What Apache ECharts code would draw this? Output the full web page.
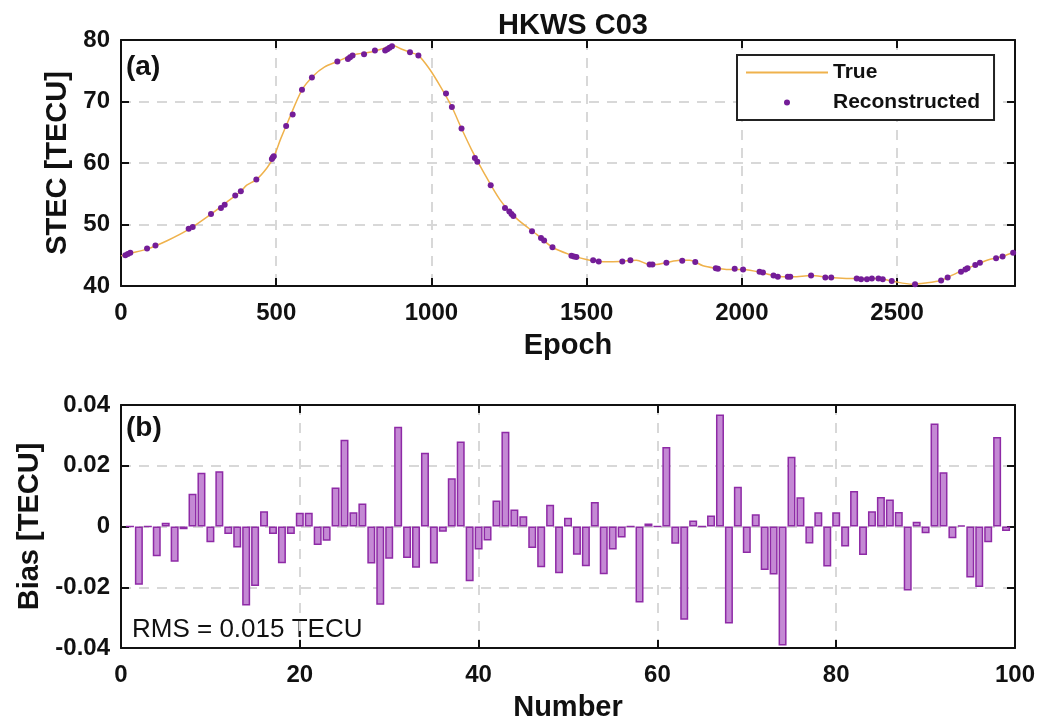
<!DOCTYPE html>
<html>
<head>
<meta charset="utf-8">
<script src="https://cdn.jsdelivr.net/npm/echarts@6/dist/echarts.min.js"></script>
<style>html,body{margin:0;padding:0;background:#fff}#c{width:1055px;height:723px}</style>
</head>
<body>
<div id="c"></div>
<script>
// ---- Panel (a): true STEC curve (epoch, TECU)
const trueCurve = [[0,44.9],[30,45.3],[84,46.0],[150,47.4],[218,49.2],[290,51.7],[340,53.6],[386,55.4],[405,56.4],[436,57.3],[470,59.2],[492,61.0],[515,64.0],[540,67.0],[583,71.9],[620,74.2],[655,75.6],[697,76.5],[750,77.6],[800,78.0],[843,78.6],[875,79.1],[905,78.5],[931,78.0],[958,77.5],[995,75.2],[1033,72.1],[1066,69.1],[1097,65.6],[1130,62.1],[1167,58.6],[1221,54.0],[1274,51.0],[1339,48.4],[1390,46.3],[1446,45.1],[1499,44.3],[1553,43.96],[1607,44.0],[1660,44.2],[1703,43.5],[1725,43.5],[1757,43.8],[1800,44.2],[1832,44.2],[1875,43.3],[1916,42.9],[1950,42.7],[2004,42.7],[2079,42.0],[2110,41.6],[2165,41.5],[2223,41.7],[2280,41.4],[2380,41.2],[2440,41.2],[2483,40.8],[2550,40.3],[2593,40.5],[2642,40.9],[2663,41.4],[2700,42.3],[2752,43.4],[2790,44.2],[2840,44.8],[2880,45.6]];
// ---- Panel (a): reconstructed points (epoch, TECU)
const reconstructed = [[14,45.0],[22,45.2],[30,45.4],[84,46.1],[111,46.6],[218,49.3],[231,49.6],[290,51.7],[322,52.7],[334,53.2],[368,54.7],[386,55.4],[436,57.3],[486,60.65],[489,60.9],[492,61.1],[532,66.0],[553,67.9],[583,71.9],[615,73.9],[697,76.5],[731,76.9],[738,77.2],[746,77.5],[783,77.7],[818,78.3],[851,78.3],[858,78.5],[865,78.75],[873,79.0],[931,78.0],[958,77.5],[1047,71.3],[1066,69.1],[1097,65.6],[1140,60.8],[1148,60.2],[1191,56.4],[1237,52.7],[1251,52.1],[1258,51.7],[1264,51.4],[1324,48.9],[1353,47.8],[1363,47.4],[1390,46.3],[1451,44.9],[1459,44.8],[1467,44.7],[1521,44.2],[1539,44.0],[1615,44.0],[1641,44.2],[1703,43.5],[1712,43.5],[1757,43.8],[1808,44.1],[1850,43.9],[1916,42.9],[1923,42.8],[1977,42.8],[2004,42.7],[2057,42.3],[2068,42.2],[2102,41.7],[2116,41.5],[2148,41.5],[2156,41.5],[2223,41.7],[2269,41.4],[2288,41.4],[2370,41.2],[2384,41.1],[2403,41.1],[2419,41.2],[2440,41.2],[2454,41.1],[2483,40.8],[2558,40.3],[2642,40.9],[2663,41.4],[2706,42.3],[2720,42.7],[2727,42.9],[2752,43.4],[2767,43.8],[2819,44.5],[2840,44.8],[2874,45.4]];
// ---- Panel (b): bias per number 1..99 (TECU)
const biasValues = [0,-0.0192,0,-0.0098,0.0012,-0.0116,-0.0009,0.0108,0.0177,-0.0052,
0.0182,-0.0025,-0.0069,-0.0260,-0.0196,0.0050,-0.0025,-0.0121,-0.0025,0.0045,
0.0045,-0.0061,-0.0047,0.0128,0.0286,0.0047,0.0076,-0.0122,-0.0258,-0.0106,
0.0328,-0.0104,-0.0136,0.0243,-0.0122,-0.0017,0.0159,0.0280,-0.0180,-0.0076,
-0.0046,0.0086,0.0312,0.0056,0.0034,-0.0071,-0.0134,0.0072,-0.0154,0.0029,
-0.0093,-0.0131,0.0081,-0.0157,-0.0076,-0.0036,0,-0.0250,0.0010,0,
0.0262,-0.0057,-0.0307,0.0020,0,0.0036,0.0369,-0.0319,0.0131,-0.0087,
0.0040,-0.0143,-0.0158,-0.0392,0.0230,0.0096,-0.0056,0.0047,-0.0132,0.0047,
-0.0066,0.0117,-0.0094,0.0050,0.0097,0.0089,0.0048,-0.0211,0.0016,-0.0022,
0.0339,0.0179,-0.0039,0.0003,-0.0168,-0.0199,-0.0052,0.0295,-0.0015];
const biasNumbers = biasValues.map((v, i) => i + 1);
const epochTicks = [0, 2880, 500];
const stecTicks = [40, 80, 10];
const numberTicks = [0, 100, 20];
const biasTicks = [-0.04, 0.04, 0.02];

const FONT = "'Liberation Sans', Arial, sans-serif";
const gridSplit = {show: true, lineStyle: {color: '#d8d8d8', width: 2, type: [10, 8]}};
function axisBase(extra) {
  return Object.assign({
    axisLine: {show: true, onZero: false, lineStyle: {color: '#111', width: 2}},
    axisTick: {show: true, inside: true, length: 8, lineStyle: {color: '#111', width: 2}},
    axisLabel: {show: true, color: '#111', fontFamily: FONT, fontWeight: 'bold', fontSize: 24},
    nameTextStyle: {color: '#111', fontFamily: FONT, fontWeight: 'bold', fontSize: 29},
    splitLine: {show: false}
  }, extra);
}
function mirror(ax) {
  const m = JSON.parse(JSON.stringify(ax));
  m.axisLabel.show = false; m.splitLine = {show: false}; m.name = '';
  return m;
}
const plain = v => String(v);

const xA = axisBase({type: 'value', gridIndex: 0, min: epochTicks[0], max: epochTicks[1], interval: epochTicks[2], name: 'Epoch', nameLocation: 'middle', nameGap: 45, splitLine: gridSplit});
xA.axisLabel.showMaxLabel = false; xA.axisLabel.margin = 15;
const yA = axisBase({type: 'value', gridIndex: 0, min: stecTicks[0], max: stecTicks[1], interval: stecTicks[2], name: 'STEC [TECU]', nameLocation: 'middle', nameGap: 44, splitLine: gridSplit});
yA.axisLabel.margin = 11;
const xB = axisBase({type: 'value', gridIndex: 1, min: numberTicks[0], max: numberTicks[1], interval: numberTicks[2], name: 'Number', nameLocation: 'middle', nameGap: 45, splitLine: gridSplit});
xB.axisLabel.margin = 15;
const yB = axisBase({type: 'value', gridIndex: 1, min: biasTicks[0], max: biasTicks[1], interval: biasTicks[2], name: 'Bias [TECU]', nameLocation: 'middle', nameGap: 75, splitLine: gridSplit});
yB.axisLabel.margin = 11;

const xA2 = mirror(xA); xA2.position = 'top';
const yA2 = mirror(yA); yA2.position = 'right';
const xB2 = mirror(xB); xB2.position = 'top';
const yB2 = mirror(yB); yB2.position = 'right';
xA.axisLabel.formatter = plain; yA.axisLabel.formatter = plain;
xB.axisLabel.formatter = plain; yB.axisLabel.formatter = plain;

const option = {
  animation: false,
  backgroundColor: '#fff',
  title: {text: 'HKWS C03', left: 568, top: 6, textAlign: 'center',
    textStyle: {fontFamily: FONT, fontWeight: 'bold', fontSize: 29, color: '#111'}},
  grid: [
    {left: 121, right: 40, top: 40, height: 246},
    {left: 121, right: 40, top: 405, height: 245}
  ],
  xAxis: [xA, xA2, xB, xB2],
  yAxis: [yA, yA2, yB, yB2],
  legend: {
    left: 737, top: 55, orient: 'vertical',
    data: [
      {name: 'True', itemStyle: {color: 'rgba(0,0,0,0)', borderWidth: 0, opacity: 0}},
      {name: 'Reconstructed'}
    ],
    itemWidth: 82, itemHeight: 6, itemGap: 9,
    padding: [7, 14, 7, 8],
    backgroundColor: '#fff', borderColor: '#222', borderWidth: 2,
    textStyle: {fontFamily: FONT, fontWeight: 'bold', fontSize: 21, color: '#111'}
  },
  series: [
    {name: 'True', type: 'line', xAxisIndex: 0, yAxisIndex: 0, data: trueCurve,
      smooth: 0.3, showSymbol: false, symbol: 'none',
      lineStyle: {color: '#efb24c', width: 1.5}, itemStyle: {color: '#efb24c'}, z: 3},
    {name: 'Reconstructed', type: 'scatter', xAxisIndex: 0, yAxisIndex: 0, data: reconstructed,
      symbol: 'circle', symbolSize: 6, itemStyle: {color: '#741d98', opacity: 1}, z: 4},
    {name: 'Bias', type: 'bar', xAxisIndex: 2, yAxisIndex: 2,
      data: biasNumbers.map((n, i) => [n, biasValues[i]]), barWidth: 8,
      itemStyle: {color: '#c489d4', borderColor: '#8e2aa6', borderWidth: 1.5}, z: 3}
  ],
  graphic: [
    {type: 'text', left: 126, top: 53, style: {text: '(a)', font: "bold 28px 'Liberation Sans', Arial", fill: '#111'}},
    {type: 'text', left: 126, top: 414, style: {text: '(b)', font: "bold 28px 'Liberation Sans', Arial", fill: '#111'}},
    {type: 'text', left: 132, top: 617, style: {text: 'RMS = 0.015 TECU', font: "26px 'Liberation Sans', Arial", fill: '#111'}}
  ]
};
const chart = echarts.init(document.getElementById('c'), null, {renderer: 'canvas'});
chart.setOption(option);
</script>
</body>
</html>
